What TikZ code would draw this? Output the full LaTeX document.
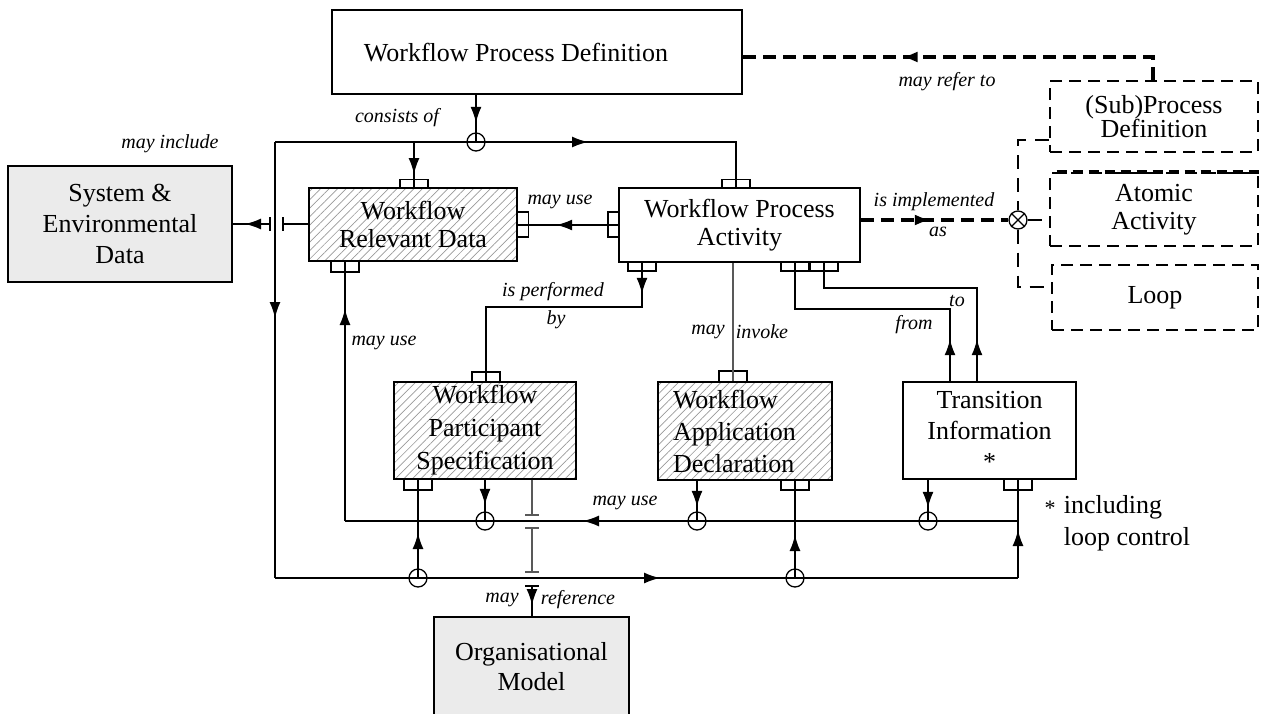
\documentclass[tikz,border=0pt]{standalone}
\usepackage{fontspec}
\setmainfont{Liberation Serif}
\usetikzlibrary{arrows.meta,patterns.meta,decorations.markings}
\begin{document}
\begin{tikzpicture}[x=1pt,y=-1pt,
  every node/.style={inner sep=0pt},
  box/.style={draw, line width=1.6pt, align=center, font=\fontsize{26}{31}\selectfont},
  gbox/.style={box, fill=black!8},
  hbox/.style={box, pattern={Lines[angle=45,distance=6pt,line width=0.7pt]}, pattern color=black!40},
  dbox/.style={box, line width=2.8pt, dash pattern=on 12pt off 7pt},
  tabh/.style={draw, line width=1.3pt, minimum width=28pt, minimum height=9pt},
  tabv/.style={draw, line width=1.3pt, minimum width=11pt, minimum height=25pt},
  junc/.style={draw, circle, line width=1.3pt, minimum size=18pt},
  conn/.style={line width=1.5pt},
  gconn/.style={line width=1.5pt, draw=black!65},
  ddash/.style={line width=3.2pt, dash pattern=on 13pt off 7pt},
  bdash/.style={line width=2pt, dash pattern=on 14pt off 9pt},
  lbl/.style={font=\fontsize{20}{22}\selectfont\itshape},
  amark/.style={postaction={decorate,decoration={markings,
     mark=at position #1pt with {\arrow{Latex[length=16pt,width=11pt]}}}}},
]
\useasboundingbox (0,0) rectangle (1261,713);

% ---------- boxes ----------
\node[box, minimum width=410pt, minimum height=84pt] (wpd) at (537,52) {};
\node[font=\fontsize{26}{31}\selectfont] (wpdtxt) at (516,53) {Workflow Process Definition};
\node[gbox, minimum width=224pt, minimum height=116pt] (sed) at (120,224) {System \&\\Environmental\\Data};
\node[hbox, minimum width=208pt, minimum height=73pt, font=\fontsize{26}{28}\selectfont] (wrd) at (413,224.5) {Workflow\\Relevant Data};
\node[box, minimum width=241pt, minimum height=74pt, font=\fontsize{26}{28}\selectfont] (wpa) at (739.5,225) {Workflow Process\\Activity};
\node[hbox, minimum width=182pt, minimum height=97pt, font=\fontsize{26}{33}\selectfont] (wps) at (485,430.5) {Workflow\\Participant\\Specification};
\node[hbox, minimum width=174pt, minimum height=98pt, text width=144pt, align=left, font=\fontsize{26}{32}\selectfont] (wad) at (745,431) {Workflow\\Application\\Declaration};
\node[box, minimum width=173pt, minimum height=97pt, font=\fontsize{26}{31}\selectfont] (ti) at (989.5,430.5) {Transition\\Information\\*};
\node[gbox, minimum width=195pt, minimum height=100pt, font=\fontsize{26}{30}\selectfont] (org) at (531.5,667) {Organisational\\Model};
\node[dbox, minimum width=208pt, minimum height=71pt, font=\fontsize{26}{24}\selectfont] (sub) at (1154,116.5) {(Sub)Process\\Definition};
\node[dbox, minimum width=208pt, minimum height=73pt, font=\fontsize{26}{28}\selectfont] (atom) at (1154,209.5) {Atomic\\Activity};
\node[dbox, minimum width=206pt, minimum height=65pt] (loop) at (1155,297.5) {Loop};
\draw[line width=4pt, dash pattern=on 10pt off 6pt] (atom.north west) ++(8,0) -- (atom.north east);

% ---------- tabs ----------
\node[tabh] (wrdT) at (414,184) {};
\node[tabh] (wpaT) at (736,184) {};
\node[tabv] (wrdR) at (523,224.5) {};
\node[tabv] (wpaL) at (613.5,224.5) {};
\node[tabh, minimum height=11pt] (wrdB) at (345,266.5) {};
\node[tabh] (wpaB1) at (642,266.5) {};
\node[tabh] (wpaB2) at (795,266.5) {};
\node[tabh] (wpaB3) at (824,266.5) {};
\node[tabh, minimum height=10pt] (wpsT) at (486,377) {};
\node[tabh, minimum height=11pt] (wadT) at (733,376.5) {};
\node[tabh, minimum height=11pt] (wpsB) at (418,484.5) {};
\node[tabh, minimum height=10pt] (wadB) at (795,485) {};
\node[tabh, minimum height=11pt] (tiB) at (1018,484.5) {};

% ---------- junctions ----------
\node[junc] (c1) at (476,142) {};
\node[junc] (c2) at (485,521) {};
\node[junc] (c3) at (697,521) {};
\node[junc] (c4) at (928,521) {};
\node[junc] (c5) at (418,578) {};
\node[junc] (c6) at (795,578) {};
\node[junc, fill=white] (ox) at (1018,220) {};

% ---------- coordinates ----------
\coordinate (tl) at (275,142);
\coordinate (bl) at (275,578);
\coordinate (br) at (1018,578);
\coordinate (mur) at (1018,521);
\coordinate (mul) at (345,521);
\coordinate (b1) at (414,142);
\coordinate (j1) at (283,224);
\coordinate (j2) at (270,224);
\coordinate (pf) at (642,307);
\coordinate (fr) at (950,309);
\coordinate (tc) at (977,288);
\coordinate (m1) at (532,515);
\coordinate (m2) at (532,528);
\coordinate (m3) at (532,572);
\coordinate (m4) at (532,586);
\coordinate (rf) at (1153,57);
\coordinate (bk1) at (1018,140);
\coordinate (bk2) at (1018,287);

% ---------- connectors ----------
\draw[conn, amark=28] (wpd.south -| c1) -- (c1.center);
\draw[conn] (tl) -- (c1.center);
\draw[conn, amark=112] (c1.center) -| (wpa.north -| wpaT);
\draw[conn, amark=32] (b1) -- (wrd.north -| wrdT);
\draw[conn, amark=176] (tl) -- (bl);
\draw[conn, amark=385] (bl) -- (br);
\draw[conn, amark=48] (br) -- (ti.south -| tiB);
\draw[conn, amark=45] (c5.center) -- (wps.south -| c5);
\draw[conn, amark=43] (c6.center) -- (wad.south -| c6);
\draw[conn, amark=25] (wps.south -| c2) -- (c2.center);
\draw[conn, amark=26] (wad.south -| c3) -- (c3.center);
\draw[conn, amark=28] (ti.south -| c4) -- (c4.center);
\draw[conn, amark=435] (mur) -- (mul);
\draw[conn, amark=212] (mul) -- (wrd.south -| wrdB);
\draw[conn, amark=62] (wpa.west) -- (wrd.east |- wpa.west);
\draw[conn, amark=31] (wpa.south -| wpaB1) -- (pf) -| (wps.north -| wpsT);
\draw[gconn] (wpa.south -| wadT) -- (wad.north -| wadT);
\draw[conn, amark=42] (ti.north -| fr) -- (fr) -| (wpa.south -| wpaB2);
\draw[conn, amark=42] (ti.north -| tc) -- (tc) -| (wpa.south -| wpaB3);

% WRD -> System & Environmental Data (crossing the bus)
\draw[conn] (wrd.west |- j1) -- (j1);
\draw[conn] (j1) +(0,-7) -- +(0,7);
\draw[conn, amark=25] (j2) -- (sed.east |- j2);
\draw[conn] (j2) +(0,-7) -- +(0,7);

% WPS -> Organisational Model (crossing two lines)
\draw[gconn] (wps.south -| m1) -- (m1);
\draw[gconn] (m1) +(-7,0) -- +(7,0);
\draw[gconn] (m2) -- (m3);
\draw[gconn] (m2) +(-7,0) -- +(7,0);
\draw[gconn] (m3) +(-7,0) -- +(7,0);
\draw[conn] (m4) +(-7,0) -- +(7,0);
\draw[conn, amark=19] (m4) -- (org.north -| m4);

% dashed part
\draw[ddash, amark=274] (sub.north -| rf) -- (rf) -- (wpd.east |- rf);
\draw[ddash, amark=70] (wpa.east |- ox) -- (ox.west);
\draw[bdash] (sub.west |- bk1) -- (bk1) -- (ox.north);
\draw[bdash] (ox.south) -- (bk2) -- (loop.west |- bk2);
\draw[bdash] (ox.east) -- (atom.west |- ox);
\draw[line width=1.3pt] (ox.north east) -- (ox.south west) (ox.north west) -- (ox.south east);

% ---------- labels ----------
\node[lbl] (l1) at (397,118) {consists of};
\node[lbl] (l2) at (170,144) {may include};
\node[lbl] (l3) at (947,82) {may refer to};
\node[lbl] (l4) at (934,202) {is implemented};
\node[lbl] (l5) at (938,232) {as};
\node[lbl] (l6) at (560,202) {may use};
\node[lbl] (l7) at (553,292) {is performed};
\node[lbl] (l8) at (556,320) {by};
\node[lbl] (l9) at (708,332) {may};
\node[lbl] (l10) at (762,332) {invoke};
\node[lbl] (l11) at (384,343) {may use};
\node[lbl] (l12) at (914,325) {from};
\node[lbl] (l13) at (957,301) {to};
\node[lbl] (l14) at (625,503) {may use};
\node[lbl] (l15) at (502,600) {may};
\node[lbl] (l16) at (578,600) {reference};
\node[font=\fontsize{22}{26}\selectfont] (ast) at (1050,508) {*};
\node[font=\fontsize{26}{32}\selectfont, align=left] (note) at (1127,523) {including\\loop control};
\end{tikzpicture}
\end{document}
